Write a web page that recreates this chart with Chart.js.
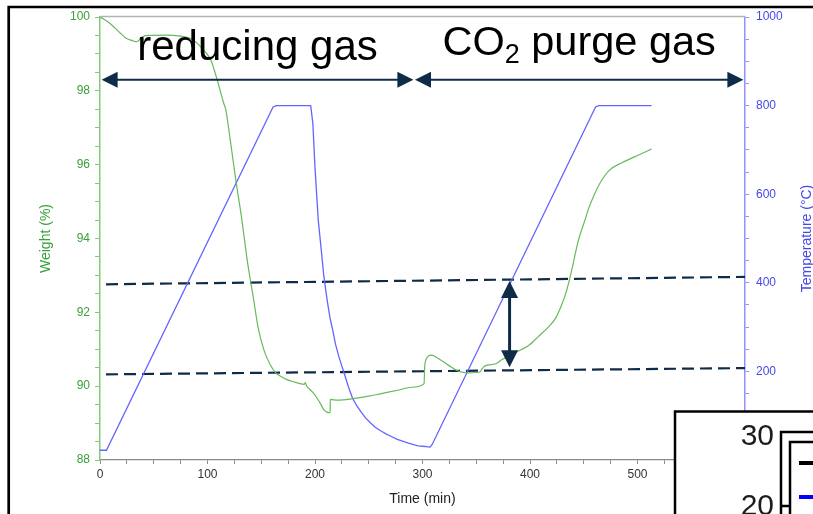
<!DOCTYPE html>
<html>
<head>
<meta charset="utf-8">
<script src="https://cdn.jsdelivr.net/npm/chart.js@4.4.0/dist/chart.umd.min.js"></script>
<style>
  html, body { margin: 0; padding: 0; background: #fff; }
  #wrap { width: 813px; height: 514px; }
</style>
</head>
<body>
<div id="wrap"><canvas id="tga" width="813" height="514"></canvas></div>
<script>
// TGA run: weight (%) and furnace temperature (°C) against time (min)
const weightTime = [0, 3, 9, 14, 19, 24, 28, 31, 34, 36, 38, 41, 45, 62, 75, 84, 90, 93.5, 98, 103, 109, 115, 117,
  121.5, 126, 132, 137, 143, 147, 152.6, 158, 163.5, 168, 174.5, 180, 187, 190, 191, 192, 196, 199, 204, 208.6,
  213.4, 214, 214.3, 221, 235, 250, 261.7, 277, 290, 301.5, 302, 303, 308.4, 314.6, 324, 333, 342.6, 350, 353.6,
  355, 358, 367.5, 374, 385, 392.5, 398.7, 408, 417, 424, 428, 432, 436, 440, 445, 450, 455, 460, 465.7, 473.5,
  486, 501.5, 513];
const weightPct = [100, 99.95, 99.83, 99.7, 99.56, 99.43, 99.38, 99.35, 99.33, 99.36, 99.44, 99.48, 99.5, 99.51,
  99.48, 99.42, 99.3, 99.2, 99.05, 98.84, 98.3, 97.67, 97.49, 96.6, 95.65, 94.5, 93.4, 92.33, 91.6, 90.97, 90.6,
  90.36, 90.27, 90.17, 90.12, 90.06, 90.05, 90.1, 90.02, 89.89, 89.8, 89.58, 89.35, 89.28, 89.3, 89.64, 89.62,
  89.66, 89.73, 89.8, 89.89, 89.97, 90.07, 90.5, 90.7, 90.84, 90.75, 90.57, 90.41, 90.36, 90.37, 90.39, 90.45,
  90.55, 90.6, 90.72, 90.88, 91.0, 91.1, 91.35, 91.6, 91.85, 92.1, 92.4, 92.8, 93.3, 93.95, 94.4, 94.85, 95.2,
  95.53, 95.84, 96.06, 96.27, 96.42];

const tempTime = [0, 6, 161, 164, 196, 198, 200, 203, 206, 208, 210, 212, 214, 216.5, 219, 222, 225, 227, 231, 235,
  239, 243, 247, 252, 256, 261, 266, 271, 276, 282, 287, 292.5, 296, 300, 303.5, 307, 309, 461, 464, 513];
const tempC = [22, 22, 797, 800, 800, 760, 660, 542, 470, 420, 383, 350, 320, 293, 262, 235, 212, 197, 166, 139,
  122, 108, 95, 83, 74, 66, 59, 53, 47, 42, 38, 34, 32, 31, 30, 29, 35, 797, 800, 800];

// dashed reference levels (time, weight)
const guideTime = [5.6, 600];
const guideUpper = [92.76, 92.96];
const guideLower = [90.32, 90.49];

// gas phases marked by the double arrows
const phaseNames = ['reducing gas', 'CO2 purge gas'];
const phaseStart = [1.5, 293];
const phaseEnd = [291.5, 598.5];
const phaseLevel = 98.3;

// vertical gap arrow between the two guides
const gapTime = 381;
const gapTop = 92.85;
const gapBottom = 90.51;

const greenLine = 'rgb(102,186,92)';
const greenAxis = 'rgb(128,204,118)';
const greenText = 'rgb(58,160,58)';
const blueLine = 'rgb(100,100,255)';
const blueAxis = 'rgb(145,145,255)';
const blueText = 'rgb(70,70,235)';
const navy = '#0e2b47';

const zip = (xs, ys) => xs.map((x, i) => ({x: x, y: ys[i]}));

Chart.defaults.font.family = '"Liberation Sans", Arial, sans-serif';
Chart.defaults.font.size = 12;

function arrowHead(ctx, x, y, dx, dy, len, half) {
  ctx.beginPath();
  ctx.moveTo(x, y);
  ctx.lineTo(x - dx * len - dy * half, y - dy * len + dx * half);
  ctx.lineTo(x - dx * len + dy * half, y - dy * len - dx * half);
  ctx.closePath();
  ctx.fill();
}

const annotations = {
  id: 'annotations',
  afterDatasetsDraw(chart) {
    const {ctx, chartArea, scales: {x, y}} = chart;
    ctx.save();

    // top frame of the plot
    ctx.strokeStyle = '#b4b4b4';
    ctx.lineWidth = 1.5;
    ctx.beginPath();
    ctx.moveTo(chartArea.left, chartArea.top - 0.5);
    ctx.lineTo(chartArea.right, chartArea.top - 0.5);
    ctx.stroke();

    // phase arrows + labels
    ctx.strokeStyle = navy;
    ctx.fillStyle = navy;
    const py = y.getPixelForValue(phaseLevel);
    const raise = [20, 25];
    const sizes = [42, 41.5];
    phaseNames.forEach((name, i) => {
      const x0 = x.getPixelForValue(phaseStart[i]);
      const x1 = x.getPixelForValue(phaseEnd[i]);
      ctx.lineWidth = 2;
      ctx.beginPath();
      ctx.moveTo(x0 + 10, py);
      ctx.lineTo(x1 - 10, py);
      ctx.stroke();
      arrowHead(ctx, x0, py, -1, 0, 16, 8);
      arrowHead(ctx, x1, py, 1, 0, 16, 8);

      const cx = (x0 + x1) / 2;
      const by = py - raise[i];
      ctx.fillStyle = '#000';
      ctx.textBaseline = 'alphabetic';
      const big = sizes[i] + 'px "Liberation Sans", Arial, sans-serif';
      const sub = '27px "Liberation Sans", Arial, sans-serif';
      if (name.startsWith('CO2')) {
        const rest = name.slice(3);
        ctx.font = big;
        const wCO = ctx.measureText('CO').width;
        const wRest = ctx.measureText(rest).width;
        ctx.font = sub;
        const w2 = ctx.measureText('2').width;
        const sx = cx - (wCO + w2 + wRest) / 2;
        ctx.textAlign = 'left';
        ctx.font = big;
        ctx.fillText('CO', sx, by);
        ctx.font = sub;
        ctx.fillText('2', sx + wCO, by + 8);
        ctx.font = big;
        ctx.fillText(rest, sx + wCO + w2, by);
      } else {
        ctx.font = big;
        ctx.textAlign = 'center';
        ctx.fillText(name, cx, by);
      }
      ctx.fillStyle = navy;
    });

    // gap arrow
    const gx = x.getPixelForValue(gapTime);
    const gy0 = y.getPixelForValue(gapTop);
    const gy1 = y.getPixelForValue(gapBottom);
    ctx.lineWidth = 3;
    ctx.beginPath();
    ctx.moveTo(gx, gy0 + 12);
    ctx.lineTo(gx, gy1 - 12);
    ctx.stroke();
    arrowHead(ctx, gx, gy0, 0, -1, 17, 8.5);
    arrowHead(ctx, gx, gy1, 0, 1, 17, 8.5);
    ctx.restore();
  },
  afterDraw(chart) {
    const {ctx, chartArea} = chart;
    ctx.save();

    // right-hand axis title, reading upwards
    ctx.translate(807, (chartArea.top + chartArea.bottom) / 2);
    ctx.rotate(-Math.PI / 2);
    ctx.fillStyle = blueText;
    ctx.font = '14px "Liberation Sans", Arial, sans-serif';
    ctx.textAlign = 'center';
    ctx.textBaseline = 'middle';
    ctx.fillText('Temperature (°C)', 0, 0);
    ctx.setTransform(1, 0, 0, 1, 0, 0);

    // overlapping panel in the lower right corner
    ctx.fillStyle = '#fff';
    ctx.fillRect(675, 411, 150, 110);
    ctx.strokeStyle = '#000';
    ctx.lineWidth = 2.5;
    ctx.beginPath();
    ctx.moveTo(675, 530);
    ctx.lineTo(675, 411.5);
    ctx.lineTo(820, 411.5);
    ctx.stroke();
    ctx.fillStyle = '#1c1c1c';
    ctx.font = '30px "Liberation Sans", Arial, sans-serif';
    ctx.textAlign = 'right';
    ctx.textBaseline = 'middle';
    ctx.fillText('30', 774, 437);
    ctx.fillText('20', 774, 507);
    ctx.lineWidth = 2.5;
    ctx.beginPath();
    ctx.moveTo(781, 530);
    ctx.lineTo(781, 432);
    ctx.lineTo(820, 432);
    ctx.moveTo(790, 530);
    ctx.lineTo(790, 442);
    ctx.lineTo(820, 442);
    ctx.moveTo(781, 506);
    ctx.lineTo(790, 506);
    ctx.stroke();
    ctx.lineWidth = 4;
    ctx.beginPath();
    ctx.moveTo(799, 463);
    ctx.lineTo(820, 463);
    ctx.stroke();
    ctx.strokeStyle = '#0000ff';
    ctx.beginPath();
    ctx.moveTo(799, 497);
    ctx.lineTo(820, 497);
    ctx.stroke();

    // outer frame
    ctx.strokeStyle = '#000';
    ctx.lineWidth = 2.7;
    ctx.beginPath();
    ctx.moveTo(8.7, 520);
    ctx.lineTo(8.7, 7);
    ctx.lineTo(820, 7);
    ctx.stroke();
    ctx.restore();
  }
};

new Chart(document.getElementById('tga'), {
  type: 'line',
  data: {
    datasets: [
      {
        label: 'Weight',
        data: zip(weightTime, weightPct),
        yAxisID: 'y',
        borderColor: greenLine,
        borderWidth: 1.2,
        cubicInterpolationMode: 'monotone',
        pointRadius: 0
      },
      {
        label: 'Temperature',
        data: zip(tempTime, tempC),
        yAxisID: 'y2',
        borderColor: blueLine,
        borderWidth: 1.3,
        tension: 0,
        pointRadius: 0
      },
      {
        label: 'upper level',
        data: zip(guideTime, guideUpper),
        yAxisID: 'y',
        borderColor: navy,
        borderWidth: 2.2,
        borderDash: [12, 6],
        pointRadius: 0
      },
      {
        label: 'lower level',
        data: zip(guideTime, guideLower),
        yAxisID: 'y',
        borderColor: navy,
        borderWidth: 2.2,
        borderDash: [12, 6],
        pointRadius: 0
      }
    ]
  },
  options: {
    responsive: false,
    animation: false,
    layout: {padding: {top: 17, left: 0, right: 0, bottom: 0}},
    plugins: {legend: {display: false}, tooltip: {enabled: false}},
    scales: {
      x: {
        type: 'linear',
        min: 0,
        max: 600,
        afterFit: s => { s.height = 54; },
        border: {color: '#8a8a8a', width: 1.3},
        grid: {drawOnChartArea: false, tickLength: 4, tickColor: '#8a8a8a'},
        ticks: {
          stepSize: 25,
          autoSkip: false,
          maxRotation: 0,
          padding: 3,
          color: '#333',
          callback: v => (v % 100 === 0 ? String(v) : '')
        },
        title: {display: true, text: 'Time (min)', color: '#222', font: {size: 14}, padding: {top: 0, bottom: 6}}
      },
      y: {
        position: 'left',
        min: 88,
        max: 100,
        afterFit: s => { s.width = 100; },
        border: {color: greenAxis, width: 1.5},
        grid: {drawOnChartArea: false, tickLength: 5, tickColor: greenAxis},
        ticks: {
          stepSize: 0.5,
          autoSkip: false,
          padding: 5,
          color: greenText,
          callback: v => (v % 2 === 0 ? String(v) : '')
        },
        title: {display: true, text: 'Weight (%)', color: greenText, font: {size: 14}, padding: {top: 38, bottom: 0}}
      },
      y2: {
        position: 'right',
        min: 0,
        max: 1000,
        afterFit: s => { s.width = 68; },
        border: {color: blueAxis, width: 1.5},
        grid: {drawOnChartArea: false, tickLength: 4, tickColor: blueAxis},
        ticks: {
          stepSize: 50,
          autoSkip: false,
          padding: 7,
          color: blueText,
          callback: v => (v % 200 === 0 ? String(v) : '')
        }
      }
    }
  },
  plugins: [annotations]
});
</script>
</body>
</html>
